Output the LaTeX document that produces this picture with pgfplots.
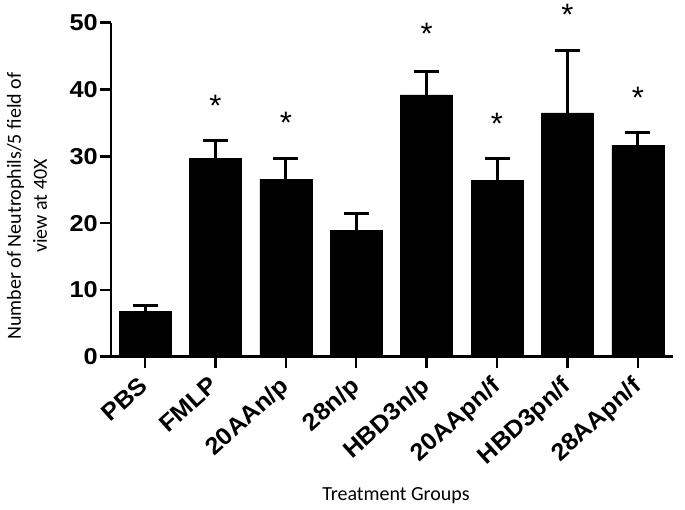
\documentclass[border=0pt]{standalone}
\usepackage{fontspec}
\setmainfont{Liberation Sans}
\newfontfamily\tickfont[FakeStretch=1.1]{Liberation Sans}
\newfontfamily\xtickfont[FakeStretch=1.05]{Liberation Sans}
\newfontfamily\labfont{Carlito}
\usepackage{pgfplots}
\pgfplotsset{compat=1.18}
\usepackage{pgfplotstable}

\pgfplotstableread{
x y ep
0 6.75 0.9
1 29.7 2.7
2 26.6 3.0
3 18.9 2.55
4 39.2 3.5
5 26.4 3.2
6 36.5 9.4
7 31.6 1.9
}\bars

\pgfplotstableread{
x y lab
1 37.5 *
2 35.0 *
4 48.4 *
5 34.9 *
6 51.2 *
7 38.8 *
}\stars

\begin{document}
\begin{tikzpicture}
\begin{axis}[
  name=ax,
  scale only axis,
  width=562pt, height=334pt,
  xmin=-0.483, xmax=7.5,
  ymin=0, ymax=50,
  clip=false,
  axis lines=left,
  axis line style={-, line width=2.5pt, black},
  x axis line style={shorten <=-11pt},
  tick align=outside,
  major tick length=11pt,
  tick style={line width=2.5pt, black},
  ytick={0,10,20,30,40,50},
  xtick={0,1,2,3,4,5,6,7},
  xticklabels={PBS, FMLP, 20AAn/p, 28n/p, HBD3n/p, 20AApn/f, HBD3pn/f, 28AApn/f},
  /pgf/number format/assume math mode=true,
  yticklabel style={font=\tickfont\bfseries\fontsize{23}{23}\selectfont, inner sep=2pt},
  xticklabel style={font=\xtickfont\bfseries\fontsize{24}{24}\selectfont, xshift=-7pt, yshift=-6pt, rotate=42, anchor=north east, inner sep=1pt},
  xlabel={Treatment Groups},
  xlabel style={font=\labfont\fontsize{20}{24}\selectfont, at={(axis description cs:0.5,0)}, anchor=center, yshift=-139.3pt, xshift=4pt},
  ylabel={Number of Neutrophils/5 field of\\view at 40X},
  ylabel style={font=\labfont\fontsize{20}{26}\selectfont, align=center, at={(axis description cs:-0.1495,0.451)}, anchor=center},
]
\addplot[ybar, bar width=52pt, fill=black, draw=black,
  error bars/.cd, y dir=plus, y explicit, error mark=|,
  error bar style={line width=3pt, black},
  error mark options={line width=3pt, mark size=12.5pt, black}]
  table[x=x, y=y, y error=ep] {\bars};
\addplot[draw=none, mark=none, nodes near coords, point meta=explicit symbolic,
  every node near coord/.style={anchor=center, font=\fontsize{31}{31}\selectfont}]
  table[x=x, y=y, meta=lab] {\stars};
\end{axis}
\pgfresetboundingbox
\path (ax.south west) ++(-111pt,-152.3pt) rectangle ++(685pt,509pt);
\end{tikzpicture}
\end{document}
